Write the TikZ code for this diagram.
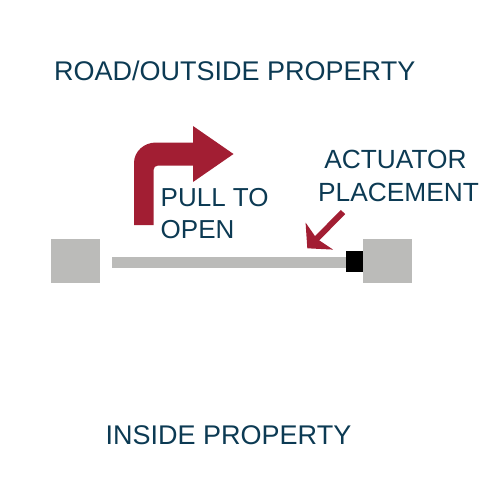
\documentclass[tikz,border=0pt]{standalone}
\usepackage{fontspec}
\setmainfont{Liberation Sans}
\usetikzlibrary{arrows.meta}
\definecolor{navy}{HTML}{0C3A53}
\definecolor{gred}{HTML}{A21E33}
\definecolor{pgray}{HTML}{BBBBB9}
\tikzset{
  lbl/.style={inner sep=0pt, text=navy, anchor=base west, font=\fontsize{27}{32}\selectfont},
  lblc/.style={inner sep=0pt, text=navy, anchor=base, font=\fontsize{26.3}{32}\selectfont},
  lbls/.style={inner sep=0pt, text=navy, anchor=base west, font=\fontsize{26}{32}\selectfont},
  post/.style={fill=pgray, draw=none, minimum width=49pt, minimum height=44pt, inner sep=0pt, anchor=north west},
}
\begin{document}
\begin{tikzpicture}[x=1pt,y=-1pt]
\useasboundingbox (0,0) rectangle (500,500);
% texts
\node[lbl] (road) at (54,81) {ROAD/OUTSIDE PROPERTY};
\node[lbl] (inside) at (105.5,444.5) {INSIDE PROPERTY};
\node[lbls] (pull) at (160.5,206.7) {PULL TO};
\node[lbls] (open) at (160.5,238.5) {OPEN};
\node[lblc] (act) at (395.5,168.3) {ACTUATOR};
\node[lblc] (plac) at (398.5,201.7) {PLACEMENT};
% posts
\node[post] (lpost) at (51,239) {};
\node[post] (rpost) at (363,239) {};
% gate bar
\fill[pgray] (112,257) rectangle (346,268);
% actuator
\node[fill=black, inner sep=0pt, minimum width=17pt, minimum height=21.5pt, anchor=north west] (actuator) at (346,250.7) {};
% pull arrow
\fill[gred] (134,225) -- (134,163)
  .. controls (134,151.5) and (144,142.5) .. (156,142.5)
  -- (193,142.5) -- (193,126) -- (233.5,154) -- (193,182) -- (193,165.5)
  -- (158,165.5) .. controls (155.5,165.5) and (153.5,167.5) .. (153.5,170)
  -- (153.5,225) -- cycle;
% actuator pointer
\coordinate (ptail) at (343,212);
\coordinate (ptip) at (307.3,248.3);
\draw[gred, line width=6pt, -{Stealth[length=17pt,width=38pt,inset=3.5pt]}] (ptail) -- (ptip);
\end{tikzpicture}
\end{document}
